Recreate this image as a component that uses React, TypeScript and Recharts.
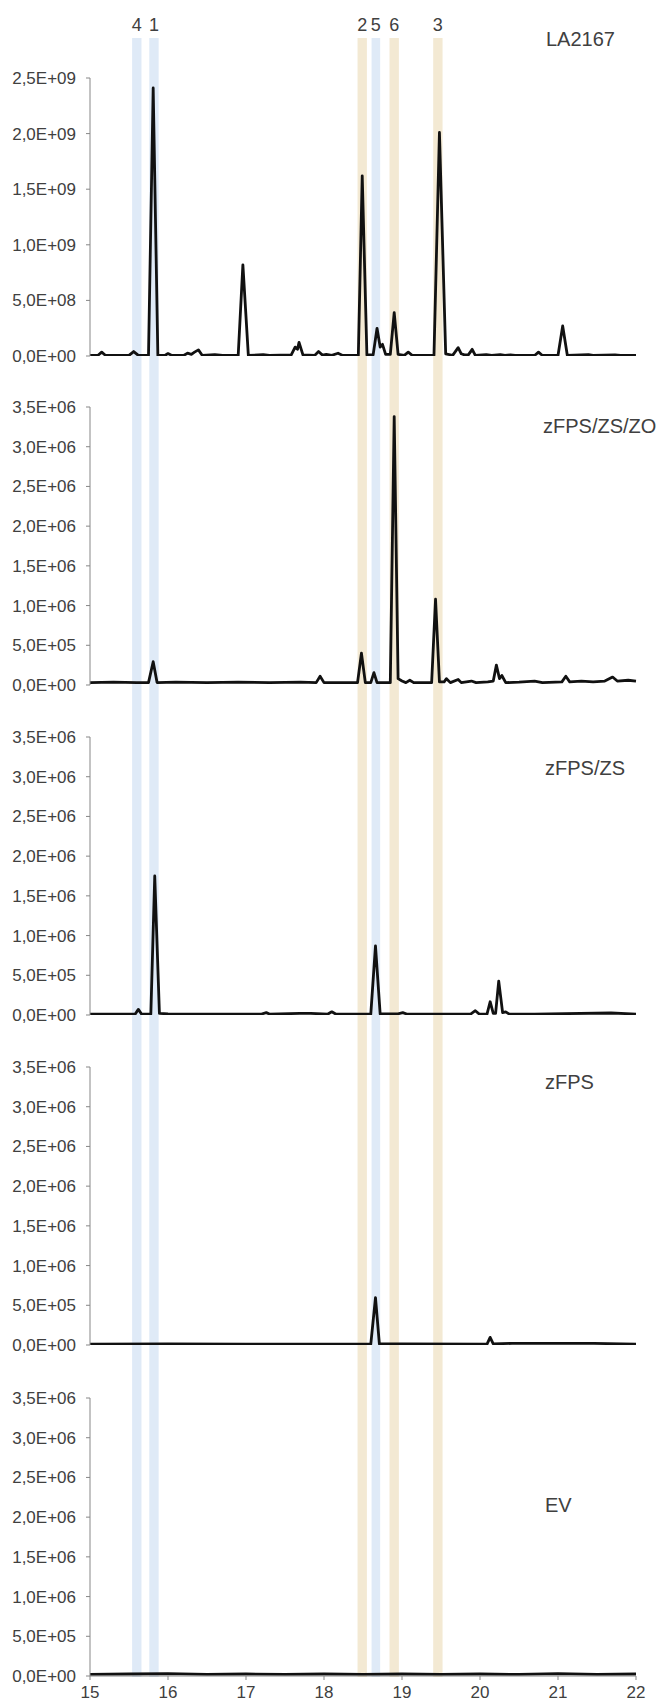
import React from "react";
import { LineChart, Line, XAxis, YAxis, ComposedChart, ReferenceArea } from "recharts";

// retention time axis
const X_TICKS = [15, 16, 17, 18, 19, 20, 21, 22];
const LA_TICKS = [0, 5e8, 1e9, 1.5e9, 2e9, 2.5e9];
const SMALL_TICKS = [0, 5e5, 1e6, 1.5e6, 2e6, 2.5e6, 3e6, 3.5e6];

// highlighted peaks: label, start, end, colour group
const BAND_LABELS = ["4", "1", "2", "5", "6", "3"];
const BAND_START = [15.54, 15.76, 18.43, 18.61, 18.84, 19.4];
const BAND_END = [15.66, 15.88, 18.55, 18.72, 18.96, 19.52];
const BAND_KIND = ["blue", "blue", "tan", "blue", "tan", "tan"];

// LA2167
const LA_T = [15.0, 15.1, 15.15, 15.2, 15.5, 15.56, 15.62, 15.75, 15.81, 15.87, 15.96, 16.0, 16.05, 16.2, 16.25, 16.3, 16.34, 16.39, 16.44, 16.6, 16.7, 16.9, 16.96, 17.03, 17.22, 17.3, 17.58, 17.63, 17.66, 17.68, 17.73, 17.88, 17.93, 17.98, 18.03, 18.1, 18.18, 18.24, 18.44, 18.49, 18.55, 18.63, 18.68, 18.72, 18.75, 18.79, 18.85, 18.9, 18.95, 19.03, 19.08, 19.13, 19.41, 19.48, 19.56, 19.65, 19.72, 19.76, 19.8, 19.85, 19.9, 19.94, 20.08, 20.15, 20.26, 20.32, 20.39, 20.45, 20.7, 20.75, 20.8, 21.0, 21.06, 21.12, 21.39, 21.45, 21.73, 21.8, 22.0];
const LA_Y = [5e6, 5e6, 3.5e7, 5e6, 5e6, 4e7, 5e6, 5e6, 2.41e9, 5e6, 5e6, 2.2e7, 5e6, 5e6, 2.5e7, 1.5e7, 3.5e7, 5.5e7, 5e6, 1.2e7, 5e6, 5e6, 8.2e8, 5e6, 1.2e7, 5e6, 1e7, 8e7, 6e7, 1.23e8, 1e7, 5e6, 4e7, 8e6, 1.5e7, 6e6, 2.5e7, 5e6, 5e6, 1.62e9, 1e7, 1e7, 2.49e8, 8e7, 1.05e8, 1.5e7, 1.5e7, 3.9e8, 1.5e7, 6e6, 3.5e7, 6e6, 6e6, 2.01e9, 2e7, 6e6, 7.5e7, 2e7, 1e7, 1e7, 6e7, 6e6, 1.2e7, 5e6, 1.2e7, 5e6, 1e7, 5e6, 5e6, 3.5e7, 5e6, 5e6, 2.7e8, 5e6, 1.2e7, 5e6, 1e7, 5e6, 5e6];

// zFPS/ZS/ZO
const ZO_T = [15.0, 15.3, 15.6, 15.75, 15.81, 15.86, 16.1, 16.5, 16.9, 17.3, 17.7, 17.9, 17.95, 18.0, 18.2, 18.43, 18.48, 18.53, 18.6, 18.64, 18.68, 18.85, 18.9, 18.95, 19.0, 19.05, 19.1, 19.15, 19.38, 19.43, 19.48, 19.54, 19.57, 19.62, 19.72, 19.76, 19.89, 19.95, 20.1, 20.17, 20.21, 20.25, 20.28, 20.33, 20.5, 20.7, 20.8, 21.05, 21.1, 21.15, 21.3, 21.45, 21.6, 21.7, 21.76, 21.9, 22.0];
const ZO_Y = [3e4, 3.5e4, 3e4, 3e4, 2.93e5, 3e4, 3.5e4, 3e4, 3.5e4, 3e4, 3.5e4, 3e4, 1.1e5, 3e4, 3e4, 3e4, 4e5, 3e4, 3e4, 1.55e5, 3e4, 3e4, 3.38e6, 8e4, 5e4, 3e4, 6e4, 3e4, 3e4, 1.08e6, 4e4, 4e4, 8e4, 3e4, 7e4, 3e4, 5e4, 3e4, 4e4, 5e4, 2.5e5, 8e4, 1.2e5, 3e4, 3.5e4, 5e4, 3e4, 4e4, 1.1e5, 4e4, 5e4, 4e4, 5e4, 1e5, 5e4, 6e4, 5e4];

// zFPS/ZS
const ZS_T = [15.0, 15.3, 15.58, 15.62, 15.66, 15.78, 15.83, 15.89, 16.0, 16.5, 17.2, 17.26, 17.3, 17.69, 17.83, 18.05, 18.1, 18.15, 18.6, 18.66, 18.72, 18.95, 19.01, 19.06, 19.88, 19.94, 19.99, 20.09, 20.13, 20.17, 20.2, 20.24, 20.29, 20.33, 20.37, 20.7, 21.68, 22.0];
const ZS_Y = [1.2e4, 1.2e4, 1.2e4, 7.1e4, 1.2e4, 1.2e4, 1.75e6, 2e4, 1.5e4, 1.2e4, 1.2e4, 3e4, 1.2e4, 2e4, 2e4, 1.2e4, 4e4, 1.2e4, 1.2e4, 8.7e5, 1.5e4, 1.5e4, 3e4, 1.2e4, 1.2e4, 5.4e4, 1.2e4, 1.2e4, 1.67e5, 2e4, 2e4, 4.26e5, 3e4, 4e4, 1.5e4, 1.2e4, 2.5e4, 1.2e4];

// zFPS
const FPS_T = [15.0, 16.0, 17.0, 18.6, 18.66, 18.71, 19.0, 20.09, 20.13, 20.17, 20.41, 21.46, 22.0];
const FPS_Y = [1.2e4, 1.5e4, 1.2e4, 1.2e4, 5.97e5, 1.5e4, 1.5e4, 1.2e4, 9.6e4, 1.5e4, 2e4, 2e4, 1.2e4];

// EV
const EV_T = [15.0, 15.5, 16.0, 16.5, 17.0, 17.5, 18.0, 18.5, 19.0, 19.5, 20.0, 20.5, 21.0, 21.5, 22.0];
const EV_Y = [2e4, 2.5e4, 3e4, 2e4, 2.5e4, 2e4, 2.5e4, 2e4, 2.5e4, 2e4, 2.5e4, 2e4, 3e4, 2e4, 2.5e4];

const BAND_COLORS: Record<string, string> = { blue: "#dfeaf7", tan: "#f3e9d3" };
const TICK_FONT = '"Liberation Sans Narrow", "Arial Narrow", "Liberation Sans", Arial, sans-serif';
const AXIS_GREY = "#878787";
const TEXT_GREY = "#404040";

function sci(v: number) {
  if (v === 0) return "0,0E+00";
  const e = Math.floor(Math.log10(v) + 1e-9);
  const m = v / Math.pow(10, e);
  return m.toFixed(1).replace(".", ",") + "E+" + String(e).padStart(2, "0");
}

function toRows(ts: number[], ys: number[]) {
  return ts.map((t, i) => ({ t, v: ys[i] }));
}

const PANELS = [
  { name: "LA2167", rows: toRows(LA_T, LA_Y), ticks: LA_TICKS, top: 78, label: { x: 546, y: 28 } },
  { name: "zFPS/ZS/ZO", rows: toRows(ZO_T, ZO_Y), ticks: SMALL_TICKS, top: 407, label: { x: 543, y: 415 } },
  { name: "zFPS/ZS", rows: toRows(ZS_T, ZS_Y), ticks: SMALL_TICKS, top: 737, label: { x: 545, y: 757 } },
  { name: "zFPS", rows: toRows(FPS_T, FPS_Y), ticks: SMALL_TICKS, top: 1067, label: { x: 545, y: 1071 } },
  { name: "EV", rows: toRows(EV_T, EV_Y), ticks: SMALL_TICKS, top: 1398, label: { x: 545, y: 1494 } },
];

const PLOT_H = 278;
const PAD = 10;

export default function App() {
  // the band layer only needs the x range; its line is invisible
  const bandRows = X_TICKS.map((t) => ({ t, v: 0 }));
  return (
    <div style={{ position: "absolute", left: 0, top: 0, width: 662, height: 1708, background: "#fff" }}>
      {/* coloured peak bands across all panels */}
      <div style={{ position: "absolute", left: 0, top: 0 }}>
        <ComposedChart width={662} height={1708} data={bandRows} margin={{ top: 38, right: 26, bottom: 31, left: 90 }}>
          <XAxis type="number" dataKey="t" domain={[15, 22]} hide />
          <YAxis type="number" domain={[0, 1]} hide />
          <Line dataKey="v" stroke="none" dot={false} isAnimationActive={false} />
          {BAND_LABELS.map((lab, i) => (
            <ReferenceArea
              key={lab}
              x1={BAND_START[i]}
              x2={BAND_END[i]}
              y1={0}
              y2={1}
              fill={BAND_COLORS[BAND_KIND[i]]}
              fillOpacity={1}
              stroke="none"
              label={{ value: lab, position: "top", offset: 7, fill: TEXT_GREY, fontSize: 18, fontFamily: TICK_FONT }}
            />
          ))}
        </ComposedChart>
      </div>

      {PANELS.map((p, idx) => {
        const last = idx === PANELS.length - 1;
        const bottom = last ? 32 : PAD;
        return (
          <div key={p.name} style={{ position: "absolute", left: 0, top: p.top - PAD }}>
            <LineChart
              width={662}
              height={PLOT_H + PAD + bottom}
              data={p.rows}
              margin={{ top: PAD, right: 26, bottom: last ? 0 : PAD, left: 10 }}
            >
              <XAxis
                type="number"
                dataKey="t"
                domain={[15, 22]}
                ticks={X_TICKS}
                hide={!last}
                height={last ? bottom : 0}
                stroke={AXIS_GREY}
                tickSize={4}
                tickMargin={6}
                interval={0}
                tick={{ fill: TEXT_GREY, fontSize: 17, fontFamily: TICK_FONT }}
              />
              <YAxis
                type="number"
                domain={[0, p.ticks[p.ticks.length - 1]]}
                ticks={p.ticks}
                tickFormatter={sci}
                width={80}
                stroke={AXIS_GREY}
                tickSize={4}
                tickMargin={10}
                interval={0}
                tick={{ fill: TEXT_GREY, fontSize: 17, fontFamily: TICK_FONT }}
                allowDataOverflow
              />
              <Line
                type="linear"
                dataKey="v"
                stroke="#111"
                strokeWidth={2.8}
                strokeLinejoin="round"
                dot={false}
                isAnimationActive={false}
              />
            </LineChart>
          </div>
        );
      })}

      {PANELS.map((p) => (
        <div
          key={"lab-" + p.name}
          style={{
            position: "absolute",
            left: p.label.x,
            top: p.label.y,
            fontFamily: '"Liberation Sans", Arial, sans-serif',
            fontSize: 20,
            color: TEXT_GREY,
            whiteSpace: "nowrap",
          }}
        >
          {p.name}
        </div>
      ))}
    </div>
  );
}
